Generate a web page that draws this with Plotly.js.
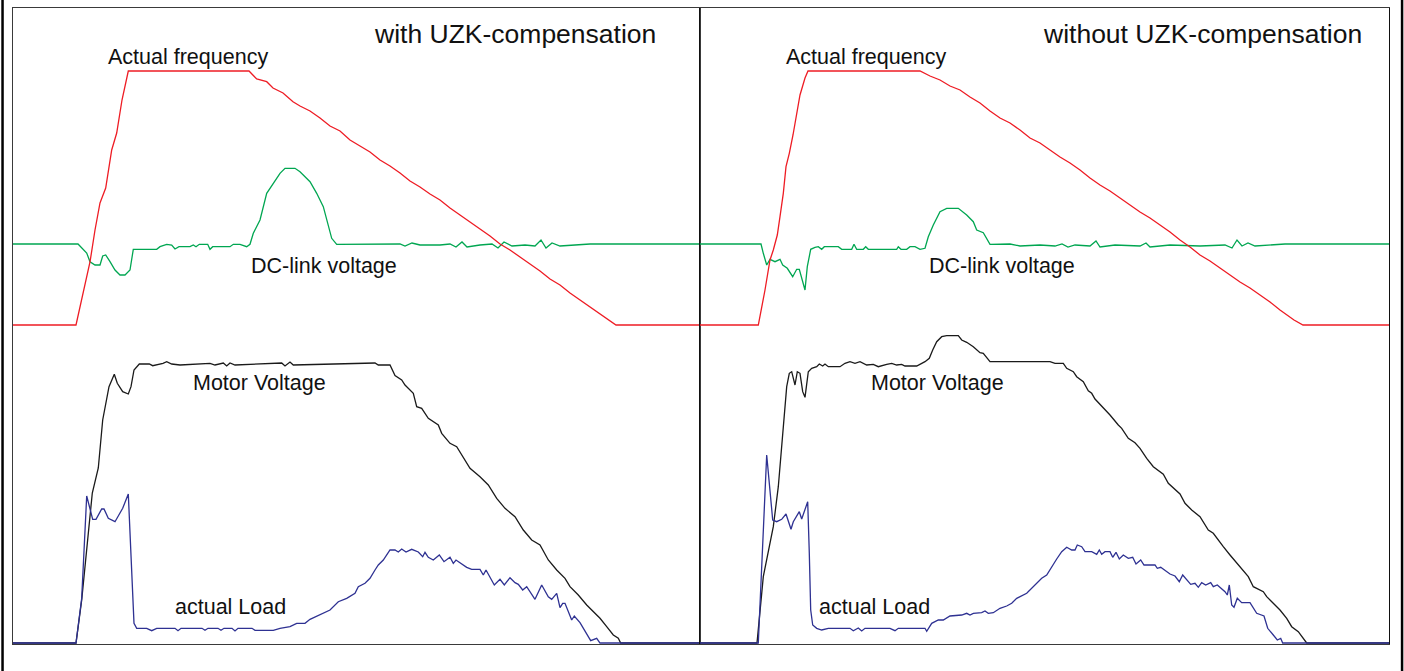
<!DOCTYPE html>
<html>
<head>
<meta charset="utf-8">
<script src="https://cdn.plot.ly/plotly-3.0.1.min.js"></script>
<style>
html,body{margin:0;padding:0;background:#fff;}
#chart{width:1404px;height:671px;}
</style>
</head>
<body>
<div id="chart"></div>
<script>
// Units: time in samples (per panel), level in arbitrary units (0 = bottom of panel)

// ---------- Left panel: with UZK-compensation ----------
const leftFreqT = [0,63,77,82,87,92.7,98.7,103.7,109,115.3,236,243.7,253.7,260,270,280,287,297,307,317,327,337,347,357,367,377,387,397,407,417,427,437,447,457,467,477,487,497,507,517,527,537,547,557,567,577,587,595,603,687];
const leftFreqV = [318,318,381,413,440,455,493,510,543,572,572,564,561.3,555,550,541.3,537,532,525,517,512,503,497,491,483,477,470,462,456,449,443,435,428,421,414,407,399,393,386,379,372,364,358,350,343,336,329,323,318,318];

const leftDcT = [0,65,73.7,77,82,87,89.7,92.7,97,102,107,112,117,120.3,143.7,147,153.7,158.7,162,166,177,180.3,183,186.3,194.7,197,199.7,217,220.3,227,233.7,237,240.3,247,253.7,260.3,267,272,282,287,297,303.7,310.3,318.7,323.7,387,392,399,407,427,437,443,449,454,467,479,485,491,499,512,522,528,533,539,547,562,577,687];
const leftDcV = [399,399,390,381.3,378,378,387,388,381.3,373,368,368,373,393.7,393.7,396.3,398.7,398,394,396.3,396.3,398,396.3,398.7,398.7,393.7,396.3,396.3,398.7,398.7,396.3,398.7,409.7,423,449.7,459.7,469.7,474.7,474.7,471.3,461.3,449.7,436.3,404.7,398.7,399,397,400,398,398,399,396,401,396,398,399,395,401,397,398,397,403,395,400,397,398,399,399];

const leftMotorT = [0,63,68.7,73.7,79.3,85.3,89.7,96,101.3,104.3,109.7,115.3,118,121,126.3,136.3,139.7,150,153.7,158.7,167,197,202,210.3,213.7,217,222,268.7,272,277,280.3,362,365.3,377,382,388.7,392,400.3,403.7,408.7,415.3,425.3,428.7,437,443.7,457,467,475.3,483.7,492,502,510.3,518.7,527,535.3,543.7,552,557,565.3,573.7,580.3,587,593.7,600.3,605.3,607.7,687];
const leftMotorV = [0,0,43,96.3,150,175,223,256.3,268.7,259.7,251.3,249,256.3,273,279,279,277.3,279.7,281.3,279,278,279.7,278,280,277,280,278,280,277,281,278,280,278,278,267.5,263,258,249.7,236.3,234.7,224.7,218,209.7,199.7,196.3,174.7,166.3,158,144.7,134.7,126.3,113,103,98,83,73,64.7,56.3,48,38,31.3,24.7,16.3,8,4.7,0,0];

const leftLoadT = [0,63,68.7,73.7,79.7,83,88.7,91,95.3,102,109.7,115.3,121,123.7,133.7,138.7,143.7,162,165,168,189,192,195,205,208,211,219,222,225,239,242,260.3,267,277,283.7,292,297,307,317,325.3,333.7,342,345.3,352,357,362,365.3,370.3,377,382,385.3,388.7,393,398.7,405.3,409.7,412,415.3,420.3,426.3,431,437,440.3,443,453.7,458.7,467,470.3,473,481.3,487,491.3,497,502,505.3,509.7,513.7,522,528.7,535.3,538.7,543.7,547,549.7,552,558.7,561.3,567,573.7,577.7,583.7,587,687];
const leftLoadV = [0,0,44.7,147,123.7,123.7,134,134,124.7,121.3,134.7,149,19.7,14.7,14.7,12.3,14.7,14.7,12.3,14.7,14.7,12.7,14.7,14.7,12.7,14.7,14.7,12,14.7,14.7,12.7,12.7,14.7,16.3,19.7,19.7,23.7,28,33,41.3,44.7,49.7,56.3,59.7,64.7,73,78,83,93,93,91,94,91,93.7,91,86.3,90.7,85.7,83,88,81.3,85.7,79.7,83,75.7,73.7,73.7,68,73,58,63.7,58,65.3,60.3,58.7,53,56.3,43.7,58,46.3,43.7,49.7,35.3,39.7,39.7,23,27,20.3,9.7,2.3,4.7,0,0];

// ---------- Right panel: without UZK-compensation ----------
const rightFreqT = [0,58.3,65,70,73.3,77.3,80,83.3,86,89.3,93,97,100,105,108,220,230,240,250,260,270,280,290,300,310,320,330,340,350,360,370,380,390,400,410,420,430,440,450,460,470,480,490,500,510,520,530,540,550,560,570,580,588,594,603,689];
const rightFreqV = [318,318,353,383,393,408,426.3,449.7,476.3,489.7,508,533,548,565,572,572,567,563,557,553,546,540,532,525,520,513,505,500,493,486,480,473,465,458,452,445,438,431,425,418,411,403,396,388,382,375,368,361,355,348,341,333,327,323,318,318];

const rightDcT = [0,61,63.3,66.7,70,75,80,82.7,87.3,92.7,96.7,99.3,105,107.3,110.7,115,118.3,121.7,124.3,138.3,141.7,151.7,154,156.7,163.3,165.7,168.3,196.7,198.3,201,206.7,210,215,220,225,228.3,233.3,240,246.7,258.3,266.7,273.3,276.7,283.3,290,310,320,340,355,362,368,375,390,396,400,415,440,446,450,470,500,525,532,537,542,548,555,570,585,689];
const rightDcV = [399,399,389.7,378,383.7,381.3,383.7,378,374.7,366.3,373.7,373.7,353,376.3,393.7,395.7,396.3,393.7,396.3,396.3,393.7,393.7,398.7,393.7,393.7,396.3,393.7,393.7,396.3,393.7,393.7,396.3,396.3,393.7,394.7,406.3,418,431.3,434.7,434.7,428,421.3,413,410.3,398.7,399,397,398,397,399,396,398,397,402,396,398,397,400,396,398,397,398,395,403,397,400,397,398,399,399];

const rightMotorT = [0,57,63.3,68.3,73.3,78.3,83.3,86.7,89.3,91.7,95,97.3,100,102.7,105,108.3,111.7,116.7,119.3,122.7,125,128.3,140,145,150,155,160,166.7,173.3,178.3,186.7,191.7,196.7,201.7,205,216.7,225,229.3,232.7,236.7,241.7,246.7,258.3,261.7,266.7,273.3,280,283.3,290,350,355,363.3,366.7,373.3,376.7,383.3,388.3,391.7,395,405,410,418.3,421.7,428.3,435,440,446.7,453.3,460,463.3,468.3,473.3,480,485,491.7,500,505,508.3,513.3,516.7,523.3,530,538.3,543.3,548.3,553.3,556.7,563.3,566.7,573.3,580,586.7,591.7,598.3,603.3,606.7,689];
const rightMotorV = [0,0,66.3,93,116.3,156.3,213,256.3,269.7,271.3,258,271.3,269.7,251.3,245.7,271.3,274.7,276.3,279,277,279,276.3,276.3,279.7,281.3,279.7,281.3,278,278.7,276.3,278.7,279.7,278,278.7,277,277,281.3,284.7,293,301.3,306.3,307.3,307.3,303,300.7,296.3,290.3,289.7,281.3,281.3,279.7,279.7,274.7,271.3,266.3,261.3,252.3,249.7,244,233.7,228,218,214.7,204.7,200.3,194.7,184.7,176.3,171.3,168.7,159.7,154.7,149,139.7,133,126.3,119,113,109.7,104.7,96.3,88,78,72.3,66.3,56.3,54.7,51.3,46.3,39.7,33,24.7,16.3,11.3,4.7,0,0];

const rightLoadT = [0,58.3,66.7,72.7,76.7,81.7,86,88.3,91,93.3,96,99.3,101.7,105,107.7,109.3,110.7,112.7,116.7,121.7,128.3,150,153.3,158.3,161.7,165,190,195,198.3,225,226.7,231.7,238.3,243.3,250,261.7,266.7,270,273.3,281.7,285,288.3,293.3,300,306.7,311.7,316.7,326.7,331.7,336.7,341.7,346.7,351.7,356.7,361.7,366.7,371.7,375,377.3,381.7,385,391.7,396.7,399.3,401.7,405,410,412.7,416,419.3,423.3,428.3,432.7,436,440.7,444,455,457.3,460.7,470,475,479.3,482.7,490.7,495,498.3,501.7,505.7,510.7,513.3,517.3,525,527.3,529.3,531.7,534,537.3,541.7,550,556.7,564,567.7,573.3,577.3,580.7,582.7,689];
const rightLoadV = [0,0,188,123,121.3,123.7,129,121.3,113.7,121.3,126.3,131.3,124,133,141.3,89.7,33,18,14.7,13,14.7,14.7,12.3,15,12,14.7,14.7,12.3,14.7,14.7,11.7,19.7,23,23,27,28,29.7,28,29.7,30.3,32,29.7,30.3,34.7,37,39.7,44.7,49.7,54.7,59.7,64.7,68,76.3,84,91.3,95.7,93,93,98,96.3,91.3,91.3,88.7,93,88.7,91.3,91.3,85.7,90.7,84,88,84.7,85.7,79,83,78,78,74.7,75.7,69,67,61.3,68,58.7,59.7,55.7,60.3,58,60.3,56.3,58,51.3,48,58,38,35.7,44.7,40.3,40.3,29.7,27,14.7,8,3,4.7,0,0];

// ---------- Text ----------
const panelTitles = ["with UZK-compensation", "without UZK-compensation"];
const seriesNames = ["Actual frequency", "DC-link voltage", "Motor Voltage", "actual Load"];

const COLORS = {freq:'#ee1c24', dc:'#00a651', motor:'#1a1a1a', load:'#2e3192'};
const LW = 1.3;

function tr(x, y, color, xa, ya, name){
  return {type:'scatter', mode:'lines', x:x, y:y, name:name, xaxis:xa, yaxis:ya,
          line:{color:color, width:LW, shape:'linear'}, hoverinfo:'skip', showlegend:false};
}

const data = [
  tr(leftDcT, leftDcV, COLORS.dc, 'x', 'y', seriesNames[1]),
  tr(leftFreqT, leftFreqV, COLORS.freq, 'x', 'y', seriesNames[0]),
  tr(leftMotorT, leftMotorV, COLORS.motor, 'x', 'y', seriesNames[2]),
  tr(leftLoadT, leftLoadV, COLORS.load, 'x', 'y', seriesNames[3]),
  tr(rightDcT, rightDcV, COLORS.dc, 'x2', 'y2', seriesNames[1]),
  tr(rightFreqT, rightFreqV, COLORS.freq, 'x2', 'y2', seriesNames[0]),
  tr(rightMotorT, rightMotorV, COLORS.motor, 'x2', 'y2', seriesNames[2]),
  tr(rightLoadT, rightLoadV, COLORS.load, 'x2', 'y2', seriesNames[3])
];

const FONT = 'Liberation Sans, Arial, Helvetica, sans-serif';
function ann(text, x, y, xa, ya, size){
  return {text:text, x:x, y:y, xref:xa, yref:ya, xanchor:'center', yanchor:'middle',
          showarrow:false, font:{family:FONT, size:size, color:'#111'}};
}

const split = 687/1376;
const axBase = {showline:true, mirror:true, linecolor:'#3a3a3a', linewidth:1, showgrid:false,
                zeroline:false, showticklabels:false, ticks:'', fixedrange:true};

const layout = {
  width:1404, height:671,
  margin:{l:13, r:15, t:8, b:27, pad:0},
  paper_bgcolor:'#ffffff', plot_bgcolor:'#ffffff',
  showlegend:false,
  xaxis: Object.assign({}, axBase, {domain:[0, split], range:[0, 687], anchor:'y'}),
  yaxis: Object.assign({}, axBase, {domain:[0, 1], range:[-1, 635], anchor:'x'}),
  xaxis2: Object.assign({}, axBase, {domain:[split, 1], range:[0, 689], anchor:'y2'}),
  yaxis2: Object.assign({}, axBase, {domain:[0, 1], range:[-1, 635], anchor:'x2', linecolor:'#111'}),
  annotations: [
    ann(panelTitles[0], 501.5, 609, 'x', 'y', 26.5),
    ann(seriesNames[0], 175, 586.5, 'x', 'y', 21.5),
    ann(seriesNames[1], 310.5, 377, 'x', 'y', 21.5),
    ann(seriesNames[2], 246.5, 260, 'x', 'y', 21.5),
    ann(seriesNames[3], 217, 36, 'x', 'y', 21.5),
    ann(panelTitles[1], 502.5, 609, 'x2', 'y2', 26.5),
    ann(seriesNames[0], 166, 586.5, 'x2', 'y2', 21.5),
    ann(seriesNames[1], 301.5, 377, 'x2', 'y2', 21.5),
    ann(seriesNames[2], 237.5, 260, 'x2', 'y2', 21.5),
    ann(seriesNames[3], 174.5, 36, 'x2', 'y2', 21.5)
  ],
  shapes: [
    {type:'line', xref:'paper', yref:'paper', x0:-0.0076, x1:-0.0076, y0:-0.06, y1:1.03, line:{color:'#000', width:2.5}},
    {type:'line', xref:'paper', yref:'paper', x0:1.0095, x1:1.0095, y0:-0.06, y1:1.03, line:{color:'#000', width:2.5}}
  ]
};

Plotly.newPlot('chart', data, layout, {staticPlot:true, displayModeBar:false});
</script>
</body>
</html>
